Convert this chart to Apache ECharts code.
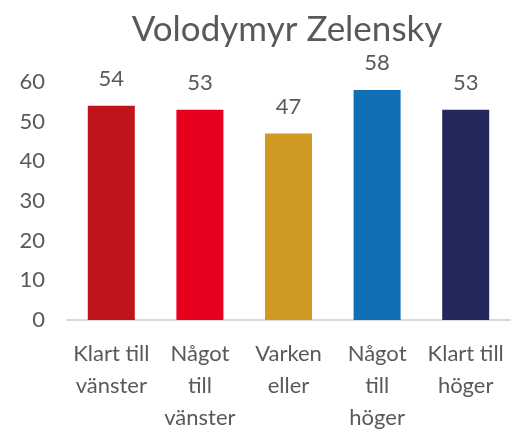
<!DOCTYPE html>
<html>
<head>
<meta charset="utf-8">
<script src="https://cdn.jsdelivr.net/npm/echarts@6/dist/echarts.min.js"></script>
<style>
  html, body { margin: 0; padding: 0; background: #fff; }
  #chart { width: 512px; height: 434px; }
</style>
</head>
<body>
<div id="chart"></div>
<script>
// data
const categories = ["Klart till\nvänster", "Något\ntill\nvänster", "Varken\neller", "Något\ntill\nhöger", "Klart till\nhöger"];
const values = [54, 53, 47, 58, 53];
const barColors = ["#C0141A", "#E8001F", "#D09A22", "#106EB7", "#232A5B"];
const yTicks = [0, 10, 20, 30, 40, 50, 60];

const chart = echarts.init(document.getElementById("chart"));
chart.setOption({
  textStyle: { fontFamily: "Lato" },
  title: {
    text: "Volodymyr Zelensky",
    left: 282,
    textAlign: "center",
    top: 7,
    textStyle: { fontFamily: "Lato", fontWeight: "normal", fontSize: 35, color: "#595959" }
  },
  grid: { left: 67, right: 2, top: 82, bottom: 113 },
  xAxis: {
    type: "category",
    data: categories,
    axisLine: { lineStyle: { color: "#D9D9D9", width: 2 } },
    axisTick: { show: false },
    axisLabel: { color: "#595959", fontSize: 22, lineHeight: 32, margin: 18, interval: 0 }
  },
  yAxis: {
    type: "value",
    min: yTicks[0],
    max: yTicks[yTicks.length - 1],
    interval: 10,
    splitLine: { show: false },
    axisLine: { show: false },
    axisTick: { show: false },
    axisLabel: { color: "#595959", fontSize: 22, margin: 22 }
  },
  series: [{
    type: "bar",
    barWidth: 47,
    data: values.map((v, i) => ({ value: v, itemStyle: { color: barColors[i] } })),
    label: { show: true, position: "top", distance: 16, color: "#595959", fontSize: 22 }
  }]
});
</script>
</body>
</html>
